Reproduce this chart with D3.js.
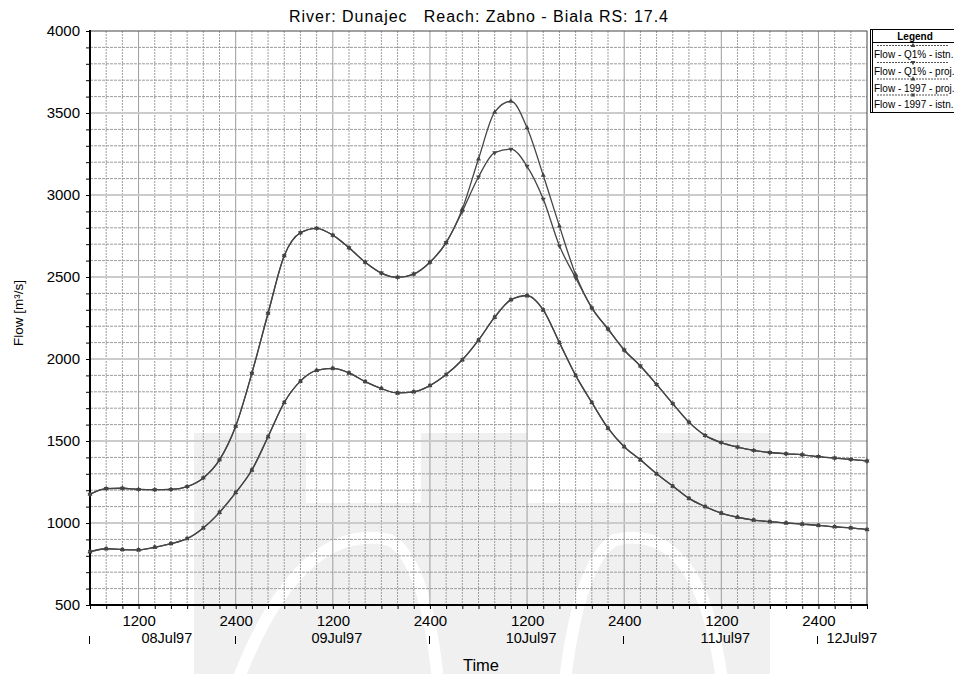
<!DOCTYPE html>
<html>
<head>
<meta charset="utf-8">
<script src="https://cdn.jsdelivr.net/npm/d3@7"></script>
<style>
  body { margin: 0; background: #fff; }
  svg { font-family: "Liberation Sans", Arial, sans-serif; }
</style>
</head>
<body>
<svg id="chart" width="954" height="674"></svg>
<script>
// hours after 08Jul97 0600
const hours = [0, 2, 4, 6, 8, 10, 12, 14, 16, 18, 20, 22, 24, 26, 28, 30, 32, 34, 36, 38, 40, 42, 44,
  46, 48, 50, 52, 54, 56, 58, 60, 62, 64, 66, 68, 70, 72, 74, 76, 78, 80, 82, 84, 86, 88, 90, 92, 94, 96];

const q1Istn = [1175, 1210, 1212, 1205, 1203, 1205, 1222, 1275, 1385, 1590, 1913, 2279, 2630, 2770, 2797, 2755,
  2678, 2590, 2524, 2498, 2518, 2590, 2710,
  2915, 3220, 3505, 3572, 3410, 3120, 2810, 2515,
  2312, 2183, 2055, 1957, 1845, 1728, 1615, 1534, 1490, 1463, 1443, 1430, 1422, 1416, 1405, 1396, 1388, 1378];
const q1Proj = [1175, 1210, 1212, 1205, 1203, 1205, 1222, 1275, 1385, 1590, 1913, 2279, 2630, 2770, 2797, 2755,
  2678, 2590, 2524, 2498, 2518, 2590, 2710,
  2900, 3110, 3258, 3280, 3175, 2975, 2690, 2495,
  2312, 2183, 2055, 1957, 1845, 1728, 1615, 1534, 1490, 1463, 1443, 1430, 1422, 1416, 1405, 1396, 1388, 1378];
const y97Proj = [825, 843, 838, 836, 852, 874, 905, 970, 1065, 1185, 1323, 1526, 1735, 1865, 1930, 1943,
  1915, 1862, 1820, 1793, 1800, 1838, 1905, 1995, 2115, 2255, 2362, 2388, 2300, 2100, 1900,
  1735, 1578, 1465, 1385, 1300, 1225, 1150, 1100, 1060, 1035, 1018, 1008, 1000, 993, 986, 977, 970, 960];
const y97Istn = [825, 843, 838, 836, 852, 874, 905, 970, 1065, 1185, 1323, 1526, 1735, 1865, 1930, 1943,
  1915, 1862, 1820, 1793, 1800, 1838, 1905, 1995, 2115, 2255, 2360, 2385, 2298, 2100, 1900,
  1735, 1578, 1465, 1385, 1300, 1225, 1150, 1100, 1060, 1035, 1018, 1008, 1000, 993, 986, 977, 970, 960];

const seriesNames = ["Flow - Q1% - istn.", "Flow - Q1% - proj.", "Flow - 1997 - proj.", "Flow - 1997 - istn."];
const seriesValues = [q1Istn, q1Proj, y97Proj, y97Istn];
const markerTypes = [d3.symbolTriangle, d3.symbolTriangle, d3.symbolTriangle, d3.symbolCross];

const yTicks = [500, 1000, 1500, 2000, 2500, 3000, 3500, 4000];
const dayLabels = ["08Jul97", "09Jul97", "10Jul97", "11Jul97", "12Jul97"];
const title = "River: Dunajec   Reach: Zabno - Biala RS: 17.4";

const plotL = 90, plotR = 867, plotT = 31, plotB = 605;
const start = new Date(1997, 6, 8, 6, 0);
const end = new Date(1997, 6, 12, 6, 0);
const toDate = h => d3.timeHour.offset(start, h);

const svg = d3.select('#chart');

const x = d3.scaleTime().domain([start, end]).range([plotL, plotR]);
const y = d3.scaleLinear().domain([500, 4000]).range([plotB, plotT]);

// watermark in the background
const wm = svg.append('g').attr('fill', '#f0f0f0');
wm.append('rect').attr('x', 194).attr('y', 503).attr('width', 576).attr('height', 171);
[[194, 306], [421, 527], [657, 770]].forEach(p => {
  wm.append('rect').attr('x', p[0]).attr('y', 433).attr('width', p[1] - p[0]).attr('height', 80);
});
svg.append('path')
  .attr('d', 'M238,680 Q300,520 390,540 Q425,560 438,680')
  .attr('fill', 'none').attr('stroke', '#fff').attr('stroke-width', 12);
svg.append('path')
  .attr('d', 'M565,680 Q580,560 615,540 Q700,520 722,680')
  .attr('fill', 'none').attr('stroke', '#fff').attr('stroke-width', 12);

// grid
const grid = svg.append('g');
const gridHours = d3.timeHour.every(2).range(d3.timeHour.offset(start, 1), end);
grid.selectAll('line.v')
  .data(gridHours)
  .join('line')
    .attr('x1', d => x(d)).attr('x2', d => x(d))
    .attr('y1', plotT).attr('y2', plotB)
    .attr('stroke', '#9c9c9c')
    .attr('stroke-width', 1)
    .attr('stroke-dasharray', d => (d.getHours() % 12 === 0) ? null : '2,1');

const gridVals = d3.range(600, 4000, 100);
grid.selectAll('line.h')
  .data(gridVals)
  .join('line')
    .attr('x1', plotL).attr('x2', plotR)
    .attr('y1', d => y(d)).attr('y2', d => y(d))
    .attr('stroke', d => d % 500 === 0 ? '#cbcbcb' : '#9c9c9c')
    .attr('stroke-width', d => d % 500 === 0 ? 2 : 1)
    .attr('stroke-dasharray', d => d % 500 === 0 ? null : '3,1');

// frame
svg.append('rect')
  .attr('x', plotL).attr('y', plotT)
  .attr('width', plotR - plotL).attr('height', plotB - plotT)
  .attr('fill', 'none').attr('stroke', '#444').attr('stroke-width', 1);
svg.append('line').attr('x1', plotL).attr('x2', plotL).attr('y1', plotT - 1).attr('y2', plotB + 1)
  .attr('stroke', '#000').attr('stroke-width', 2);
svg.append('line').attr('x1', plotL - 1).attr('x2', plotR + 1).attr('y1', plotB).attr('y2', plotB)
  .attr('stroke', '#000').attr('stroke-width', 2);

// y axis
const yAxis = d3.axisLeft(y).tickValues(d3.range(500, 4001, 100))
  .tickSize(4)
  .tickFormat(d => yTicks.includes(d) ? d : '');
const ga = svg.append('g').attr('transform', `translate(${plotL},0)`).call(yAxis);
ga.select('.domain').remove();
ga.selectAll('.tick line').attr('stroke', '#000');
ga.selectAll('.tick text').attr('font-size', 15).attr('fill', '#000')
  .attr('font-family', '"Liberation Sans", Arial, sans-serif').attr('x', -10);

// x axis
const xAxis = d3.axisBottom(x).ticks(d3.timeHour.every(2)).tickSize(4)
  .tickFormat(d => d.getHours() === 12 ? '1200' : d.getHours() === 0 ? '2400' : '');
const gx = svg.append('g').attr('transform', `translate(0,${plotB})`).call(xAxis);
gx.select('.domain').remove();
gx.selectAll('.tick line').attr('stroke', '#000');
gx.selectAll('.tick text').attr('font-size', 15).attr('fill', '#000')
  .attr('font-family', '"Liberation Sans", Arial, sans-serif').attr('y', 10);

// day labels
const days = d3.timeDay.range(d3.timeDay.floor(start), end);
const dayG = svg.append('g');
days.forEach((d, i) => {
  const s = d < start ? start : d;
  const e0 = d3.timeDay.offset(d, 1);
  const e = e0 > end ? end : e0;
  dayG.append('line')
    .attr('x1', Math.round(x(s)) - 0.5).attr('x2', Math.round(x(s)) - 0.5)
    .attr('y1', 636).attr('y2', 644)
    .attr('stroke', '#000').attr('stroke-width', 1);
  const span = x(e) - x(s);
  const t = dayG.append('text')
    .attr('y', 643)
    .attr('font-size', 14.5)
    .text(dayLabels[i]);
  if (span > 80) {
    t.attr('x', (x(s) + x(e)) / 2 + 4).attr('text-anchor', 'middle');
  } else {
    t.attr('x', x(s) + 8).attr('text-anchor', 'start');
  }
});

// axis titles
svg.append('text')
  .attr('x', 478.5).attr('y', 22)
  .attr('text-anchor', 'middle')
  .attr('font-size', 16)
  .attr('textLength', 379)
  .attr('lengthAdjust', 'spacing')
  .style('white-space', 'pre')
  .text(title);
svg.append('text')
  .attr('x', 481).attr('y', 671)
  .attr('text-anchor', 'middle')
  .attr('font-size', 16.5)
  .text('Time');
svg.append('text')
  .attr('transform', 'translate(23,313) rotate(-90)')
  .attr('text-anchor', 'middle')
  .attr('font-size', 13.5)
  .text('Flow [m³/s]');

// series
const line = d3.line()
  .x((d, i) => x(toDate(hours[i])))
  .y(d => y(d))
  .curve(d3.curveMonotoneX);

const plot = svg.append('g');
seriesValues.forEach((vals, k) => {
  plot.append('path')
    .datum(vals)
    .attr('d', line)
    .attr('fill', 'none')
    .attr('stroke', '#454545')
    .attr('stroke-width', 1.3);
  plot.selectAll(null)
    .data(vals)
    .join('path')
      .attr('transform', (d, i) => `translate(${x(toDate(hours[i]))},${y(d)})` + (k === 1 ? ' rotate(180)' : k === 3 ? ' rotate(45)' : ''))
      .attr('d', d3.symbol().type(markerTypes[k]).size(11))
      .attr('fill', '#444');
});

// legend
const lg = svg.append('g');
lg.append('rect').attr('x', 870.5).attr('y', 29.5).attr('width', 100).attr('height', 83)
  .attr('fill', '#fff').attr('stroke', '#000');
lg.append('line').attr('x1', 872.5).attr('x2', 872.5).attr('y1', 29.5).attr('y2', 112.5).attr('stroke', '#000');
lg.append('line').attr('x1', 872).attr('x2', 954).attr('y1', 42.5).attr('y2', 42.5).attr('stroke', '#000');
lg.append('text').attr('x', 915).attr('y', 40).attr('text-anchor', 'middle')
  .attr('font-size', 10).attr('font-weight', 'bold').text('Legend');
seriesNames.forEach((name, k) => {
  const ly = [45.5, 62.5, 79, 95][k];
  lg.append('line').attr('x1', 877).attr('x2', 948).attr('y1', ly).attr('y2', ly)
    .attr('stroke', '#555').attr('stroke-dasharray', '2,1');
  lg.append('path')
    .attr('transform', `translate(913,${ly})` + (k === 1 ? ' rotate(180)' : k === 3 ? ' rotate(45)' : ''))
    .attr('d', d3.symbol().type(markerTypes[k]).size(10))
    .attr('fill', '#444');
  lg.append('text').attr('x', 874).attr('y', ly + 12.5)
    .attr('font-size', 10).text(name);
});
</script>
</body>
</html>
